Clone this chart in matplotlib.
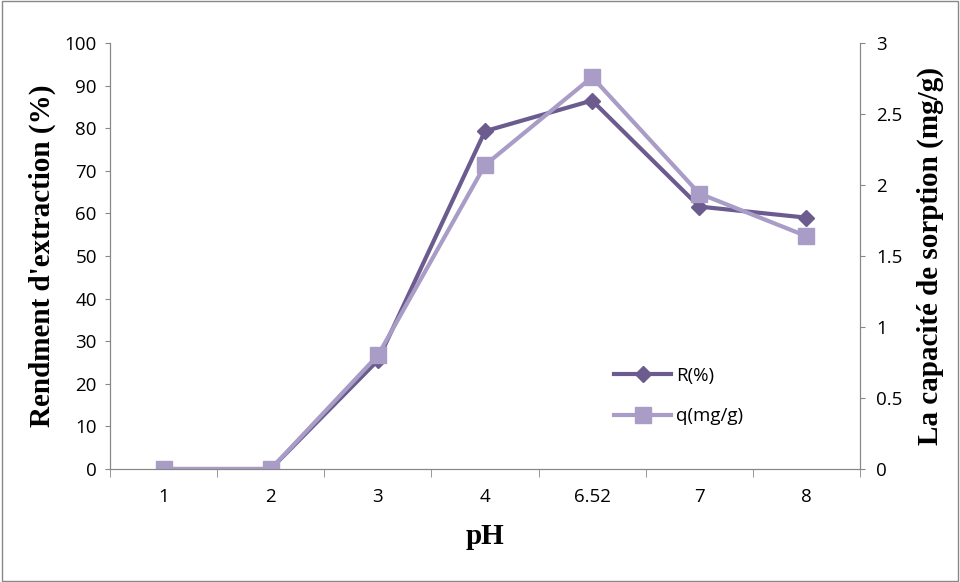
import matplotlib.pyplot as plt
from matplotlib.lines import Line2D

# data
ph_labels = ['1', '2', '3', '4', '6.52', '7', '8']
rendement = [0, 0, 25.5, 79.3, 86.5, 61.6, 59.0]
capacite = [0, 0, 0.80, 2.14, 2.76, 1.94, 1.64]

c_r = '#6b5b8e'
c_q = '#a99cc6'

fig = plt.figure(figsize=(9.6, 5.82), dpi=100)
ax = fig.add_axes([110/960, 1-469/582, 750/960, 426/582])
ax2 = ax.twinx()

x = range(len(ph_labels))
ax.plot(x, rendement, color=c_r, lw=3, marker='D', ms=8, zorder=3)
ax2.plot(x, capacite, color=c_q, lw=3, marker='s', ms=11, zorder=2)

ax.set_xlim(-0.5, len(ph_labels) - 0.5)
ax.set_ylim(0, 100)
ax2.set_ylim(0, 3)
ax.set_yticks(range(0, 101, 10))
ax2.set_yticks([0, 0.5, 1, 1.5, 2, 2.5, 3])
ax2.set_yticklabels(['0', '0.5', '1', '1.5', '2', '2.5', '3'])
ax.set_xticks(list(x))
ax.set_xticklabels(ph_labels)
ax.set_xticks([i + 0.5 for i in range(-1, len(ph_labels))], minor=True)
ax.tick_params(axis='x', which='major', length=0, pad=14)
ax.tick_params(axis='x', which='minor', length=6, direction='out', color='#888888')

for lbl in ax.get_xticklabels() + ax.get_yticklabels() + ax2.get_yticklabels():
    lbl.set_fontfamily('Open Sans')
    lbl.set_fontsize(13.5)
ax.tick_params(axis='y', direction='out', color='#888888', pad=6)
ax2.tick_params(axis='y', direction='out', color='#888888', pad=8)

for a in (ax, ax2):
    a.spines['top'].set_visible(False)
    for s in ('left', 'right', 'bottom'):
        a.spines[s].set_color('#888888')

lab_font = {'family': 'Liberation Serif', 'size': 21, 'weight': 'bold'}
ax.set_xlabel('pH', fontdict=lab_font, labelpad=12)
ax.set_ylabel("Rendment d'extraction (%)", fontdict=lab_font, labelpad=6)
ax2.set_ylabel('La capacité de sorption (mg/g)', fontdict=lab_font, rotation=90, labelpad=10)

handles = [Line2D([], [], color=c_r, lw=3, marker='D', ms=8),
           Line2D([], [], color=c_q, lw=3, marker='s', ms=11)]
leg = ax.legend(handles, ['R(%)', 'q(mg/g)'], loc='upper left', bbox_to_anchor=(0.65, 0.28),
                frameon=False, labelspacing=1.2, handlelength=3, handletextpad=0.3,
                prop={'family': 'Open Sans', 'size': 13.5})

fig.patches.append(plt.Rectangle((0.002, 0.002), 0.996, 0.996, transform=fig.transFigure,
                                 fill=False, edgecolor='#888888', lw=1))

plt.savefig('out.png', dpi=100)
